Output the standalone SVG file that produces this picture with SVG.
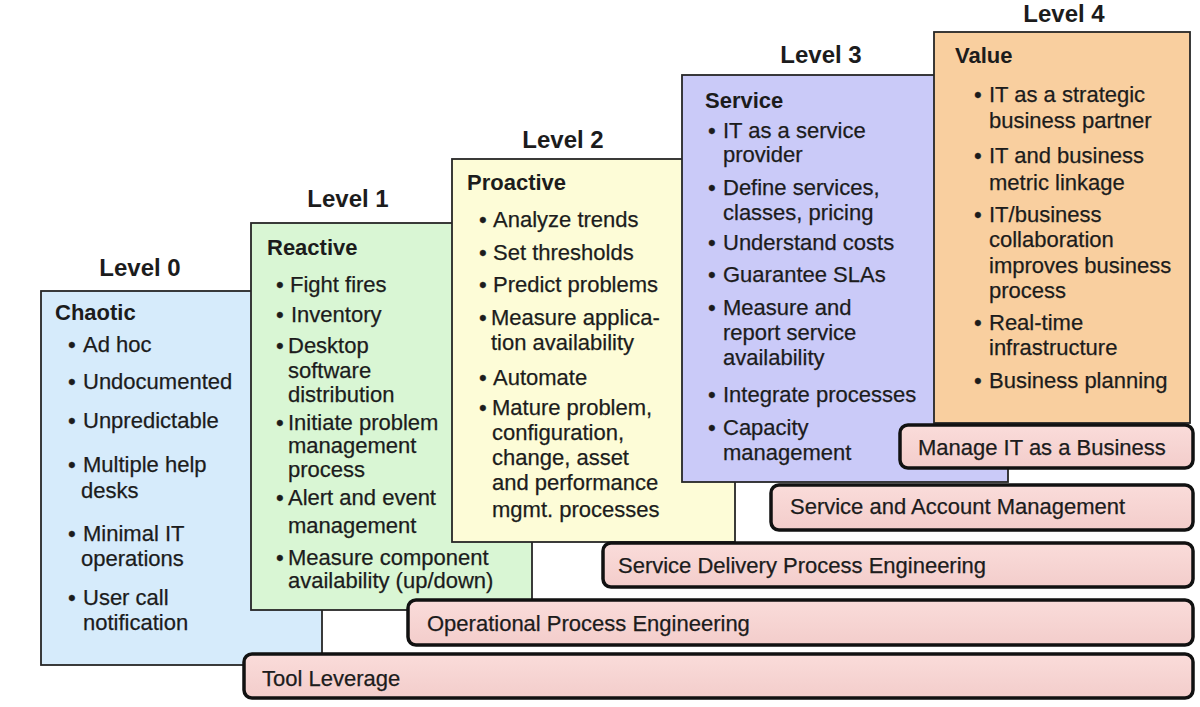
<svg xmlns="http://www.w3.org/2000/svg" width="1200" height="707" viewBox="0 0 1200 707">
<defs>
<linearGradient id="pink" x1="0" y1="0" x2="0" y2="1">
<stop offset="0" stop-color="#fadcda"/>
<stop offset="1" stop-color="#f3cdcb"/>
</linearGradient>
</defs>
<style>
.box{stroke:#262626;stroke-width:1.8}
.bar{fill:url(#pink);stroke:#111;stroke-width:3.5}
text{font-family:"Liberation Sans",Arial,sans-serif;fill:#1c1c1c}
.lvl{font-size:24px;font-weight:bold;text-anchor:middle}
.ttl{font-size:22px;font-weight:bold}
.it text,.bt{font-size:22px;stroke:#1c1c1c;stroke-width:0.25}
</style>
<rect width="1200" height="707" fill="#ffffff"/>

<g id="level0">
<text class="lvl" x="140" y="276">Level 0</text>
<rect class="box" x="41" y="291" width="281" height="374" fill="#d6ebfb"/>
<text class="ttl" x="55" y="320">Chaotic</text>
<g class="it">
<text x="68" y="352">•</text><text x="83" y="352">Ad hoc</text>
<text x="68" y="389">•</text><text x="83" y="389">Undocumented</text>
<text x="68" y="428">•</text><text x="83" y="428">Unpredictable</text>
<text x="68" y="472">•</text><text x="83" y="472">Multiple help</text><text x="81" y="498">desks</text>
<text x="68" y="541">•</text><text x="83" y="541">Minimal IT</text><text x="81" y="566">operations</text>
<text x="68" y="605">•</text><text x="83" y="605">User call</text><text x="83" y="630">notification</text>
</g>
</g>

<g id="level1">
<text class="lvl" x="348" y="207">Level 1</text>
<rect class="box" x="251" y="223" width="281" height="387" fill="#d9f6d4"/>
<text class="ttl" x="267" y="255">Reactive</text>
<g class="it">
<text x="276" y="292">•</text><text x="290" y="292">Fight fires</text>
<text x="276" y="322">•</text><text x="291" y="322">Inventory</text>
<text x="276" y="353">•</text><text x="288" y="353">Desktop</text><text x="288" y="378">software</text><text x="288" y="402">distribution</text>
<text x="276" y="430">•</text><text x="288" y="430">Initiate problem</text><text x="288" y="453">management</text><text x="288" y="477">process</text>
<text x="276" y="505">•</text><text x="288" y="505">Alert and event</text><text x="288" y="533">management</text>
<text x="276" y="565">•</text><text x="288" y="565">Measure component</text><text x="288" y="588">availability (up/down)</text>
</g>
</g>

<g id="level2">
<text class="lvl" x="563" y="148">Level 2</text>
<rect class="box" x="452" y="159" width="283" height="383" fill="#fdfcd7"/>
<text class="ttl" x="467" y="190">Proactive</text>
<g class="it">
<text x="479" y="227">•</text><text x="493" y="227">Analyze trends</text>
<text x="479" y="260">•</text><text x="493" y="260">Set thresholds</text>
<text x="479" y="292">•</text><text x="493" y="292">Predict problems</text>
<text x="479" y="325">•</text><text x="491" y="325">Measure applica-</text><text x="491" y="350">tion availability</text>
<text x="479" y="385">•</text><text x="493" y="385">Automate</text>
<text x="479" y="415">•</text><text x="492" y="415">Mature problem,</text><text x="492" y="440">configuration,</text><text x="492" y="465">change, asset</text><text x="492" y="490">and performance</text><text x="492" y="517">mgmt. processes</text>
</g>
</g>

<g id="level3">
<text class="lvl" x="821" y="63">Level 3</text>
<rect class="box" x="682" y="75" width="326" height="407" fill="#cacaf8"/>
<text class="ttl" x="705" y="108">Service</text>
<g class="it">
<text x="708" y="138">•</text><text x="723" y="138">IT as a service</text><text x="723" y="162">provider</text>
<text x="708" y="195">•</text><text x="723" y="195">Define services,</text><text x="723" y="220">classes, pricing</text>
<text x="708" y="250">•</text><text x="723" y="250">Understand costs</text>
<text x="708" y="282">•</text><text x="723" y="282">Guarantee SLAs</text>
<text x="708" y="315">•</text><text x="723" y="315">Measure and</text><text x="723" y="340">report service</text><text x="723" y="365">availability</text>
<text x="708" y="402">•</text><text x="723" y="402">Integrate processes</text>
<text x="708" y="435">•</text><text x="723" y="435">Capacity</text><text x="723" y="460">management</text>
</g>
</g>

<g id="level4">
<text class="lvl" x="1064" y="22">Level 4</text>
<rect class="box" x="934" y="32" width="256" height="391" fill="#f9cf9f"/>
<text class="ttl" x="955" y="63">Value</text>
<g class="it">
<text x="974" y="102">•</text><text x="989" y="102">IT as a strategic</text><text x="989" y="128">business partner</text>
<text x="974" y="163">•</text><text x="989" y="163">IT and business</text><text x="989" y="190">metric linkage</text>
<text x="974" y="222">•</text><text x="989" y="222">IT/business</text><text x="989" y="247">collaboration</text><text x="989" y="273">improves business</text><text x="989" y="298">process</text>
<text x="974" y="330">•</text><text x="989" y="330">Real-time</text><text x="989" y="355">infrastructure</text>
<text x="974" y="388">•</text><text x="989" y="388">Business planning</text>
</g>
</g>

<g id="bar-manage-it">
<rect class="bar" x="900" y="425" width="293" height="43" rx="8"/>
<text class="bt" x="918" y="455">Manage IT as a Business</text>
</g>
<g id="bar-service-account">
<rect class="bar" x="771" y="485" width="422" height="45" rx="8"/>
<text class="bt" x="790" y="514">Service and Account Management</text>
</g>
<g id="bar-service-delivery">
<rect class="bar" x="603" y="543" width="590" height="44" rx="8"/>
<text class="bt" x="618" y="573">Service Delivery Process Engineering</text>
</g>
<g id="bar-operational">
<rect class="bar" x="408" y="600" width="785" height="45" rx="8"/>
<text class="bt" x="427" y="631">Operational Process Engineering</text>
</g>
<g id="bar-tool-leverage">
<rect class="bar" x="244" y="654" width="949" height="44" rx="8"/>
<text class="bt" x="262" y="686">Tool Leverage</text>
</g>
<g id="connectors"/>
</svg>
